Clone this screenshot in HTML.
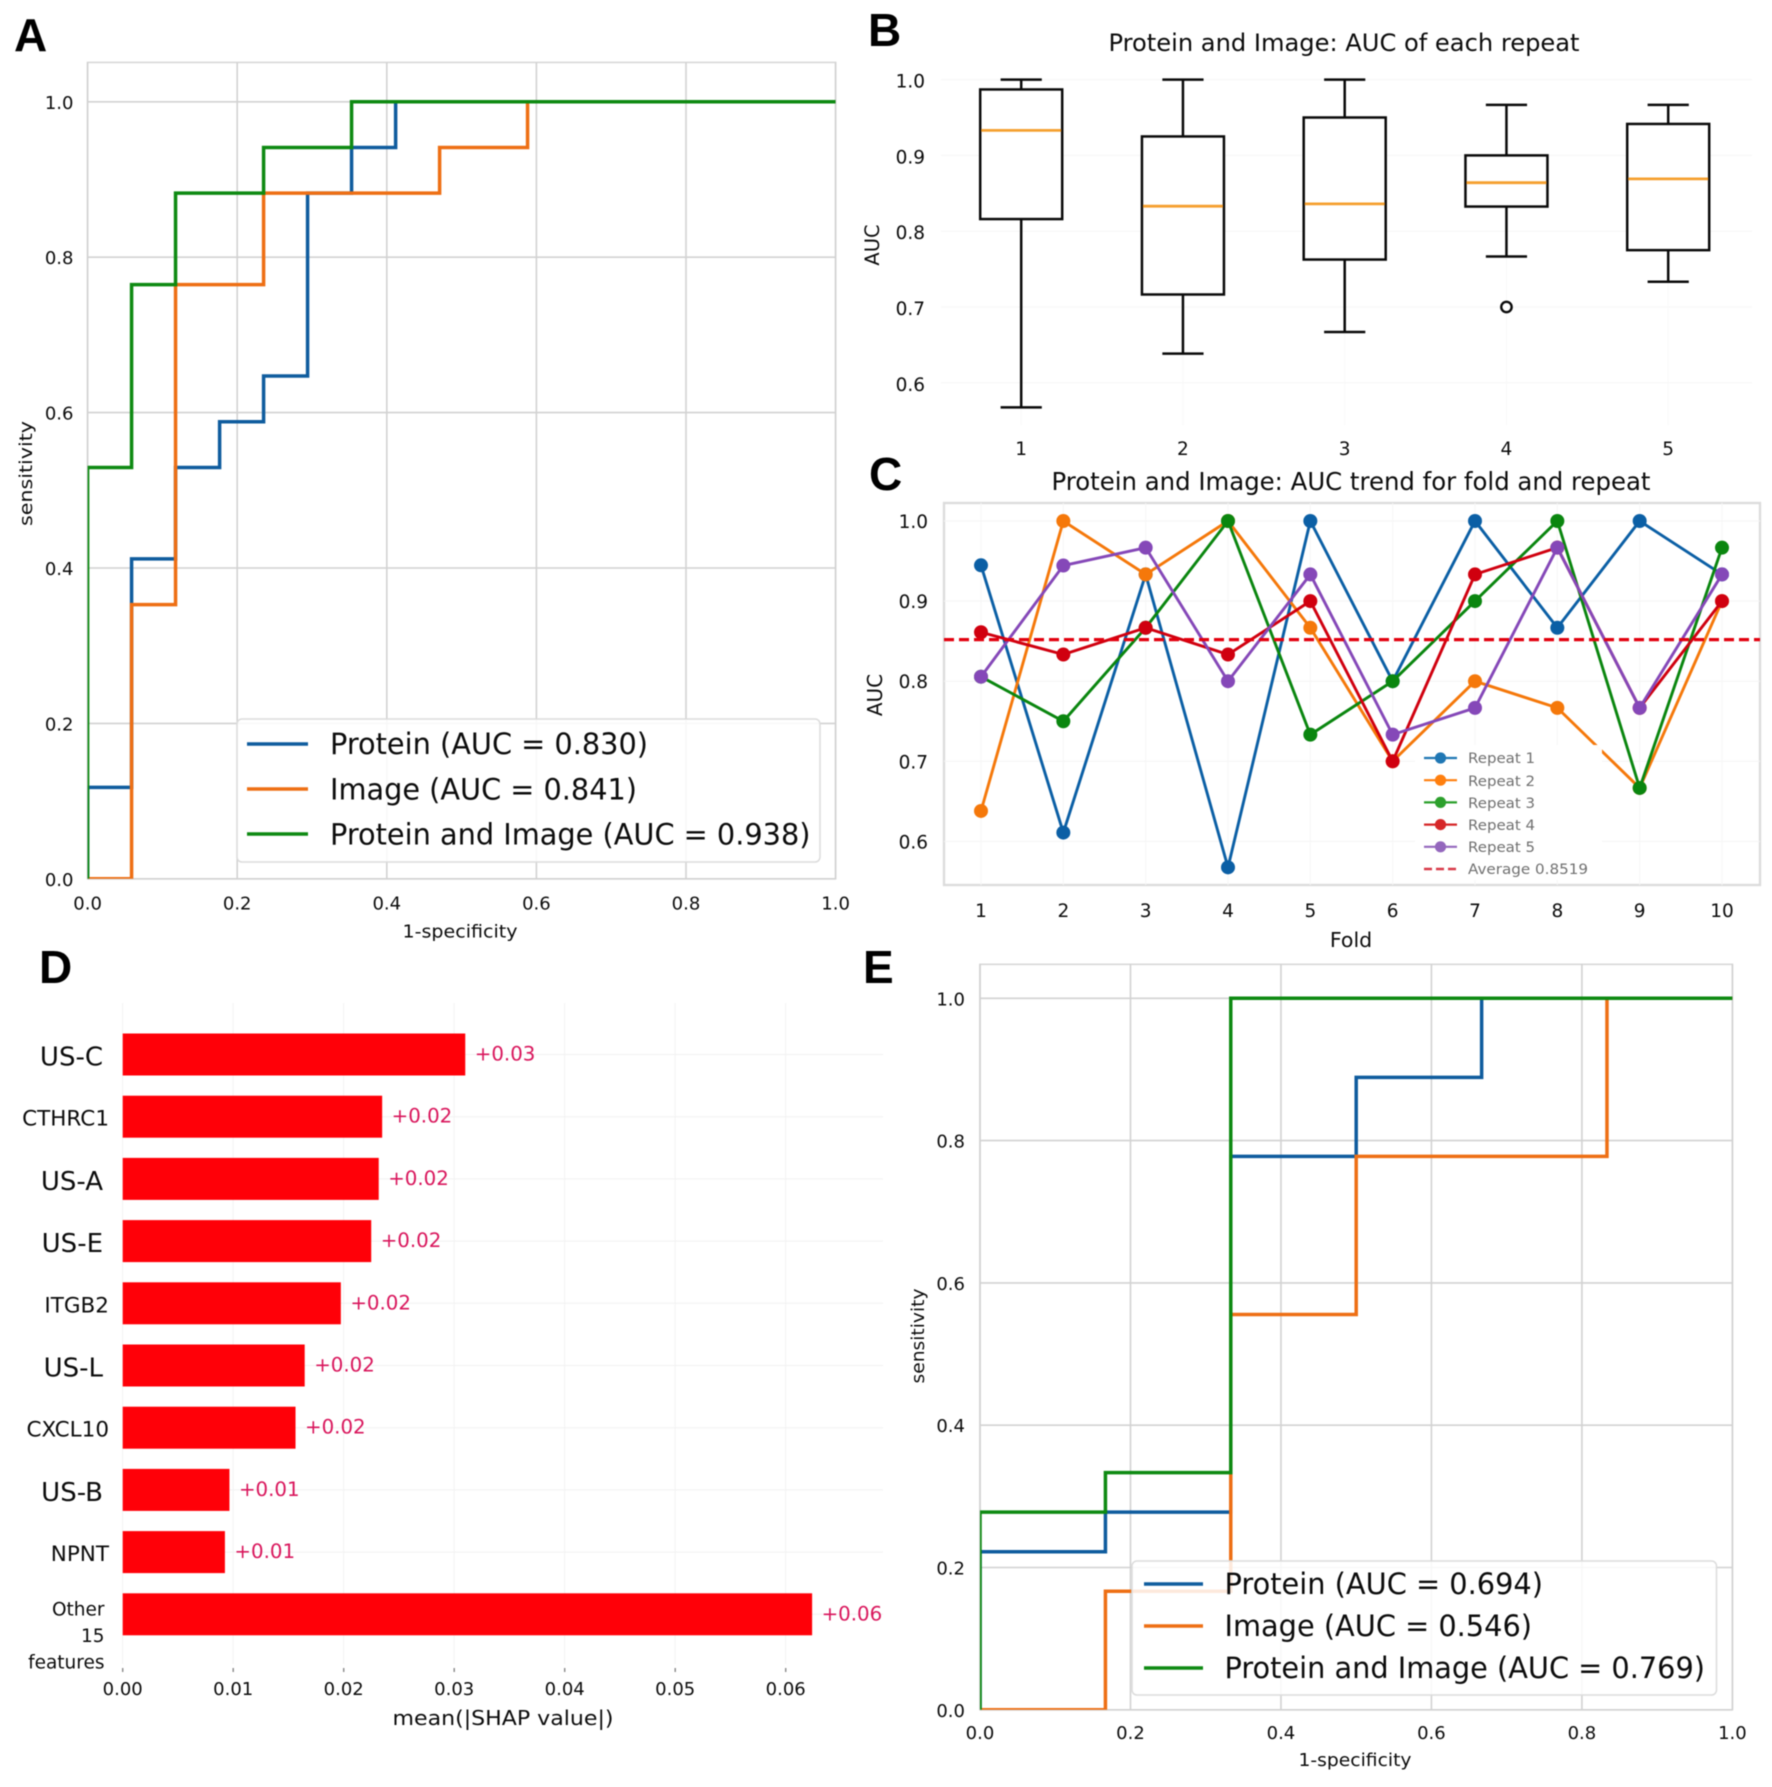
<!DOCTYPE html>
<html lang="en">
<head>
<meta charset="utf-8">
<title>Protein and Image AUC figure</title>
<style>
html,body{margin:0;padding:0;background:#fff;}
svg{display:block;filter:blur(0.6px);}
text{font-family:"DejaVu Sans","Liberation Sans",sans-serif;fill:#0c0c0c;}
.letter{font-family:"Liberation Sans",sans-serif;font-weight:bold;font-size:46px;fill:#000;}
.leg{font-size:29px;}
.lab{font-size:18px;}
</style>
</head>
<body>
<svg id="figure" xmlns="http://www.w3.org/2000/svg" width="1772" height="1787" viewBox="0 0 1772 1787">
  <rect width="1772" height="1787" fill="#fff"/>
  <defs>
    <clipPath id="clip-a"><rect x="87.6" y="62.4" width="748" height="816.4"/></clipPath>
    <clipPath id="clip-e"><rect x="980" y="964.3" width="752.4" height="745.5"/></clipPath>
  </defs>

  <!-- Panel A -->
  <g id="panel-a">
    <text class="letter" x="14" y="51">A</text>
    <g id="a-axes"></g>
    <text class="lab" x="460" y="937.5" text-anchor="middle" textLength="115" lengthAdjust="spacingAndGlyphs">1-specificity</text>
    <text class="lab" transform="translate(32,473.5) rotate(-90)" text-anchor="middle" textLength="105" lengthAdjust="spacingAndGlyphs">sensitivity</text>
    <g id="a-marks" clip-path="url(#clip-a)"></g>
    <g>
      <rect x="237" y="719" width="583" height="143" rx="5" fill="#fff" fill-opacity="0.85" stroke="#dcdcdc" stroke-width="1.5"/>
      <line x1="247" x2="308" y1="744" y2="744" stroke="#0f5c9e" stroke-width="3.6"/>
      <text class="leg" x="330" y="754" textLength="318" lengthAdjust="spacingAndGlyphs">Protein (AUC = 0.830)</text>
      <line x1="247" x2="308" y1="789" y2="789" stroke="#ee6f14" stroke-width="3.6"/>
      <text class="leg" x="330" y="799.5" textLength="307" lengthAdjust="spacingAndGlyphs">Image (AUC = 0.841)</text>
      <line x1="247" x2="308" y1="834" y2="834" stroke="#0e8a12" stroke-width="3.6"/>
      <text class="leg" x="330" y="844.5" textLength="480.5" lengthAdjust="spacingAndGlyphs">Protein and Image (AUC = 0.938)</text>
    </g>
  </g>

  <!-- Panel B -->
  <g id="panel-b">
    <text class="letter" x="868" y="46">B</text>
    <text x="1344" y="51" text-anchor="middle" font-size="24" textLength="471" lengthAdjust="spacingAndGlyphs">Protein and Image: AUC of each repeat</text>
    <text transform="translate(879,245) rotate(-90)" text-anchor="middle" font-size="19.5">AUC</text>
    <g id="b-axes"></g>
    <g id="b-marks"></g>
  </g>

  <!-- Panel C -->
  <g id="panel-c">
    <text class="letter" x="869" y="490">C</text>
    <text x="1351" y="490" text-anchor="middle" font-size="25" textLength="599" lengthAdjust="spacingAndGlyphs">Protein and Image: AUC trend for fold and repeat</text>
    <text x="1351" y="947" text-anchor="middle" font-size="20.5">Fold</text>
    <text transform="translate(882,695) rotate(-90)" text-anchor="middle" font-size="20">AUC</text>
    <g id="c-axes"></g>
    <g id="c-marks"></g>
    <g>
      <rect x="1415" y="745" width="187" height="135" fill="#fff" fill-opacity="0.97"/>
      <g id="c-legend-keys"></g>
      <g font-size="14.5">
        <text x="1468" y="763" style="fill:#707070" textLength="67" lengthAdjust="spacingAndGlyphs">Repeat 1</text>
        <text x="1468" y="786" style="fill:#707070" textLength="67" lengthAdjust="spacingAndGlyphs">Repeat 2</text>
        <text x="1468" y="808" style="fill:#707070" textLength="67" lengthAdjust="spacingAndGlyphs">Repeat 3</text>
        <text x="1468" y="830" style="fill:#707070" textLength="67" lengthAdjust="spacingAndGlyphs">Repeat 4</text>
        <text x="1468" y="852" style="fill:#707070" textLength="67" lengthAdjust="spacingAndGlyphs">Repeat 5</text>
        <text x="1468" y="874" style="fill:#707070" textLength="120" lengthAdjust="spacingAndGlyphs">Average 0.8519</text>
      </g>
    </g>
  </g>

  <!-- Panel D -->
  <g id="panel-d">
    <text class="letter" x="39" y="983">D</text>
    <g id="d-axes"></g>
    <g id="d-marks"></g>
    <text x="503" y="1725" text-anchor="middle" font-size="20.5" textLength="221" lengthAdjust="spacingAndGlyphs">mean(|SHAP value|)</text>
  </g>

  <!-- Panel E -->
  <g id="panel-e">
    <text class="letter" x="863" y="983">E</text>
    <g id="e-axes"></g>
    <text class="lab" x="1355" y="1766" text-anchor="middle" textLength="113" lengthAdjust="spacingAndGlyphs">1-specificity</text>
    <text class="lab" transform="translate(924,1336) rotate(-90)" text-anchor="middle" textLength="95" lengthAdjust="spacingAndGlyphs">sensitivity</text>
    <g id="e-marks" clip-path="url(#clip-e)"></g>
    <g>
      <rect x="1132" y="1561" width="584.5" height="134" rx="5" fill="#fff" fill-opacity="0.85" stroke="#dcdcdc" stroke-width="1.5"/>
      <line x1="1144" x2="1203" y1="1584" y2="1584" stroke="#0f5c9e" stroke-width="3.6"/>
      <text class="leg" x="1224.5" y="1594" textLength="318.5" lengthAdjust="spacingAndGlyphs">Protein (AUC = 0.694)</text>
      <line x1="1144" x2="1203" y1="1626" y2="1626" stroke="#ee6f14" stroke-width="3.6"/>
      <text class="leg" x="1224.5" y="1636" textLength="307.5" lengthAdjust="spacingAndGlyphs">Image (AUC = 0.546)</text>
      <line x1="1144" x2="1203" y1="1668" y2="1668" stroke="#0e8a12" stroke-width="3.6"/>
      <text class="leg" x="1224.5" y="1678" textLength="480.5" lengthAdjust="spacingAndGlyphs">Protein and Image (AUC = 0.769)</text>
    </g>
  </g>
</svg>

<script>
// ---- Panel A data: ROC curves ----
const rocTicks = [0, 0.2, 0.4, 0.6, 0.8, 1.0];
const aProteinFpr = [0, 0, 0.0588, 0.0588, 0.1176, 0.1176, 0.1765, 0.1765, 0.2353, 0.2353, 0.2941, 0.2941, 0.3529, 0.3529, 0.4118, 0.4118, 1];
const aProteinTpr = [0, 0.1176, 0.1176, 0.4118, 0.4118, 0.5294, 0.5294, 0.5882, 0.5882, 0.6471, 0.6471, 0.8824, 0.8824, 0.9412, 0.9412, 1, 1];
const aImageFpr = [0, 0.0588, 0.0588, 0.1176, 0.1176, 0.2353, 0.2353, 0.4706, 0.4706, 0.5882, 0.5882, 1];
const aImageTpr = [0, 0, 0.3529, 0.3529, 0.7647, 0.7647, 0.8824, 0.8824, 0.9412, 0.9412, 1, 1];
const aBothFpr = [0, 0, 0.0588, 0.0588, 0.1176, 0.1176, 0.2353, 0.2353, 0.3529, 0.3529, 1];
const aBothTpr = [0, 0.5294, 0.5294, 0.7647, 0.7647, 0.8824, 0.8824, 0.9412, 0.9412, 1, 1];

// ---- Panel B data: box plot ----
const boxCategories = ['1', '2', '3', '4', '5'];
const boxTicks = [1.0, 0.9, 0.8, 0.7, 0.6];
const boxLow = [0.5675, 0.6385, 0.667, 0.7667, 0.7333];
const boxQ1 = [0.816, 0.7165, 0.7626, 0.8325, 0.775];
const boxMedian = [0.933, 0.833, 0.836, 0.864, 0.869];
const boxQ3 = [0.987, 0.925, 0.95, 0.9, 0.9415];
const boxHigh = [1.0, 1.0, 1.0, 0.9667, 0.9667];
const boxOutliers = [null, null, null, 0.70, null];

// ---- Panel C data: AUC per fold ----
const foldLabels = ['1', '2', '3', '4', '5', '6', '7', '8', '9', '10'];
const foldTicks = [1.0, 0.9, 0.8, 0.7, 0.6];
const repeat1 = [0.9447, 0.611, 0.9333, 0.5676, 1.0, 0.8, 1.0, 0.8667, 1.0, 0.9333];
const repeat2 = [0.638, 1.0, 0.9333, 1.0, 0.8667, 0.7, 0.8, 0.7667, 0.6667, 0.9];
const repeat3 = [0.8056, 0.75, 0.8667, 1.0, 0.7333, 0.8, 0.9, 1.0, 0.6667, 0.9667];
const repeat4 = [0.8611, 0.8333, 0.8667, 0.8333, 0.9, 0.7, 0.9333, 0.9667, 0.7667, 0.9];
const repeat5 = [0.8056, 0.9444, 0.9667, 0.8, 0.9333, 0.7333, 0.7667, 0.9667, 0.7667, 0.9333];
const averageAuc = [0.8519];

// ---- Panel D data: SHAP bars ----
const shapFeatures = ['US-C', 'CTHRC1', 'US-A', 'US-E', 'ITGB2', 'US-L', 'CXCL10', 'US-B', 'NPNT', 'Other|15|features'];
const shapValues = [0.0310, 0.02348, 0.02317, 0.02249, 0.01974, 0.01647, 0.01564, 0.00966, 0.00925, 0.06239];
const shapPrinted = ['+0.03', '+0.02', '+0.02', '+0.02', '+0.02', '+0.02', '+0.02', '+0.01', '+0.01', '+0.06'];
const shapTicks = [0, 0.01, 0.02, 0.03, 0.04, 0.05, 0.06];

// ---- Panel E data: ROC curves ----
const eProteinFpr = [0, 0, 0.1667, 0.1667, 0.3333, 0.3333, 0.5, 0.5, 0.6667, 0.6667, 1];
const eProteinTpr = [0, 0.2222, 0.2222, 0.2778, 0.2778, 0.7778, 0.7778, 0.8889, 0.8889, 1, 1];
const eImageFpr = [0, 0.1667, 0.1667, 0.3333, 0.3333, 0.5, 0.5, 0.8333, 0.8333, 1];
const eImageTpr = [0, 0, 0.1667, 0.1667, 0.5556, 0.5556, 0.7778, 0.7778, 1, 1];
const eBothFpr = [0, 0, 0.1667, 0.1667, 0.3333, 0.3333, 1];
const eBothTpr = [0, 0.2778, 0.2778, 0.3333, 0.3333, 1, 1];

const NS = 'http://www.w3.org/2000/svg';
const BLUE = '#0f5c9e', ORANGE = '#ee6f14', GREEN = '#0e8a12';
function node(parent, tag, attrs) {
  const el = document.createElementNS(NS, tag);
  for (const k in attrs) el.setAttribute(k, attrs[k]);
  parent.appendChild(el);
  return el;
}
function linear(d0, d1, r0, r1) {
  return function (v) { return r0 + (v - d0) / (d1 - d0) * (r1 - r0); };
}
function pathOf(xs, ys, fx, fy) {
  return xs.map(function (x, i) { return (i ? 'L' : 'M') + fx(x).toFixed(2) + ' ' + fy(ys[i]).toFixed(2); }).join(' ');
}

// ---- ROC panels (A, E) ----
function drawRoc(prefix, box, tickX, tickY, curves) {
  const axes = document.getElementById(prefix + '-axes');
  const marks = document.getElementById(prefix + '-marks');
  const fx = linear(0, 1, box.x0, box.x1);
  const fy = linear(0, 1, box.y0, box.y1);
  const frame = node(axes, 'rect', { x: box.x0, y: box.top, width: box.x1 - box.x0, height: box.y0 - box.top, fill: '#fff', stroke: '#d8d8d8', 'stroke-width': 1.6 });
  
  
  rocTicks.forEach(function (t) {
    const gx = node(axes, 'line', { x1: fx(t), x2: fx(t), y1: box.top, y2: box.y0, stroke: '#d2d2d2', 'stroke-width': 1.6 });
    
    
    const gy = node(axes, 'line', { x1: box.x0, x2: box.x1, y1: fy(t), y2: fy(t), stroke: '#d2d2d2', 'stroke-width': 1.6 });
    
    
    const lx = node(axes, 'text', { x: fx(t), y: tickX, 'text-anchor': 'middle', 'font-size': 18 });
    lx.textContent = t.toFixed(1);
    
    
    const ly = node(axes, 'text', { x: tickY, y: fy(t) + 7, 'text-anchor': 'end', 'font-size': 18 });
    ly.textContent = t.toFixed(1);
    
    
  });
  curves.forEach(function (c) {
    const p = node(marks, 'path', { d: pathOf(c.xs, c.ys, fx, fy), fill: 'none', stroke: c.color, 'stroke-width': 3.5, 'stroke-linejoin': 'miter' });
    
    
  });
}
drawRoc('a', { x0: 87.6, x1: 835.6, y0: 878.8, y1: 101.8, top: 62.4 }, 909.5, 73.5, [
  { key: 'protein', xs: aProteinFpr, ys: aProteinTpr, color: BLUE },
  { key: 'image', xs: aImageFpr, ys: aImageTpr, color: ORANGE },
  { key: 'protein-and-image', xs: aBothFpr, ys: aBothTpr, color: GREEN }
]);
drawRoc('e', { x0: 980, x1: 1732.4, y0: 1709.8, y1: 998.3, top: 964.3 }, 1739, 965, [
  { key: 'protein', xs: eProteinFpr, ys: eProteinTpr, color: BLUE },
  { key: 'image', xs: eImageFpr, ys: eImageTpr, color: ORANGE },
  { key: 'protein-and-image', xs: eBothFpr, ys: eBothTpr, color: GREEN }
]);

// ---- Box plot (B) ----
(function () {
  const axes = document.getElementById('b-axes');
  const marks = document.getElementById('b-marks');
  const fy = linear(1, 0, 79.6, 837.6);
  const fx = linear(1, 5, 1021.2, 1668.2);
  const HALF = 41, CAP = 20.6;
  boxTicks.forEach(function (t) {
    const g = node(axes, 'line', { x1: 941, x2: 1752, y1: fy(t), y2: fy(t), stroke: '#f6f6f6', 'stroke-width': 1 });
    
    
    const l = node(axes, 'text', { x: 925, y: fy(t) + 8, 'text-anchor': 'end', 'font-size': 18.5 });
    l.textContent = t.toFixed(1);
    
    
  });
  boxCategories.forEach(function (cat, i) {
    const cx = fx(i + 1);
    const g = node(axes, 'line', { x1: cx, x2: cx, y1: 112, y2: 425, stroke: '#f8f8f8', 'stroke-width': 1 });
    
    
    const l = node(axes, 'text', { x: cx, y: 455, 'text-anchor': 'middle', 'font-size': 18.5 });
    l.textContent = cat;
    
    
    const common = { stroke: '#0a0a0a', 'stroke-width': 2.5 };
    const wl = node(marks, 'line', Object.assign({ x1: cx, x2: cx, y1: fy(boxQ1[i]), y2: fy(boxLow[i]) }, common));
    
    
    const wh = node(marks, 'line', Object.assign({ x1: cx, x2: cx, y1: fy(boxQ3[i]), y2: fy(boxHigh[i]) }, common));
    
    
    const cl = node(marks, 'line', Object.assign({ x1: cx - CAP, x2: cx + CAP, y1: fy(boxLow[i]), y2: fy(boxLow[i]) }, common));
    
    
    const ch = node(marks, 'line', Object.assign({ x1: cx - CAP, x2: cx + CAP, y1: fy(boxHigh[i]), y2: fy(boxHigh[i]) }, common));
    
    
    const r = node(marks, 'rect', Object.assign({ x: cx - HALF, y: fy(boxQ3[i]), width: HALF * 2, height: fy(boxQ1[i]) - fy(boxQ3[i]), fill: '#fff' }, common));
    
    
    const m = node(marks, 'line', { x1: cx - HALF + 1, x2: cx + HALF - 1, y1: fy(boxMedian[i]), y2: fy(boxMedian[i]), stroke: '#f5a030', 'stroke-width': 2.8 });
    
    
    if (boxOutliers[i] !== null) {
      const o = node(marks, 'circle', { cx: cx, cy: fy(boxOutliers[i]), r: 5.2, fill: '#fff', stroke: '#0a0a0a', 'stroke-width': 2.4 });
      
      
    }
  });
})();

// ---- Line chart (C) ----
(function () {
  const axes = document.getElementById('c-axes');
  const marks = document.getElementById('c-marks');
  const keys = document.getElementById('c-legend-keys');
  const fy = linear(1, 0, 521, 1322);
  const fx = linear(1, 10, 981, 1722);
  const colors = ['#0b5fa5', '#f5780a', '#0a860f', '#d0000f', '#8548b8'];
  const legendColors = ['#1f77b4', '#ff7f0e', '#2ca02c', '#d62728', '#9467bd'];
  const series = [repeat1, repeat2, repeat3, repeat4, repeat5];
  const frame = node(axes, 'rect', { x: 944, y: 503, width: 816, height: 382, fill: '#fff', stroke: '#dcdcdc', 'stroke-width': 2.4 });
  
  
  foldTicks.forEach(function (t) {
    const g = node(axes, 'line', { x1: 944, x2: 1760, y1: fy(t), y2: fy(t), stroke: '#f4f4f4', 'stroke-width': 1 });
    
    
    const l = node(axes, 'text', { x: 928, y: fy(t) + 7, 'text-anchor': 'end', 'font-size': 18.5 });
    l.textContent = t.toFixed(1);
    
    
  });
  foldLabels.forEach(function (f, i) {
    const g = node(axes, 'line', { x1: fx(i + 1), x2: fx(i + 1), y1: 503, y2: 885, stroke: '#f6f6f6', 'stroke-width': 1 });
    
    
    const l = node(axes, 'text', { x: fx(i + 1), y: 917, 'text-anchor': 'middle', 'font-size': 18.5 });
    l.textContent = f;
    
    
  });
  series.forEach(function (vals, s) {
    const xs = vals.map(function (_, i) { return i + 1; });
    const p = node(marks, 'path', { d: pathOf(xs, vals, fx, fy), fill: 'none', stroke: colors[s], 'stroke-width': 2.9 });
    
    
    vals.forEach(function (v, i) {
      const c = node(marks, 'circle', { cx: fx(i + 1), cy: fy(v), r: 7, fill: colors[s] });
      
      
    });
    const ky = 758 + s * 22.2;
    const kl = node(keys, 'line', { x1: 1424, x2: 1457, y1: ky, y2: ky, stroke: legendColors[s], 'stroke-width': 2.2 });
    
    
    const kc = node(keys, 'circle', { cx: 1440.5, cy: ky, r: 5.6, fill: legendColors[s] });
    
    
  });
  const avg = node(marks, 'line', { x1: 944, x2: 1760, y1: fy(averageAuc[0]), y2: fy(averageAuc[0]), stroke: '#e2000e', 'stroke-width': 3.2, 'stroke-dasharray': '10 5' });
  
  
  const ka = node(keys, 'line', { x1: 1424, x2: 1457, y1: 869, y2: 869, stroke: '#d83a48', 'stroke-width': 2.4, 'stroke-dasharray': '8 4' });
  
  
})();

// ---- SHAP bars (D) ----
(function () {
  const axes = document.getElementById('d-axes');
  const marks = document.getElementById('d-marks');
  const fx = linear(0, 0.01, 122.7, 233.2);
  const fy = function (i) { return 1054.5 + i * 62.2; };
  shapTicks.forEach(function (t) {
    const g = node(axes, 'line', { x1: fx(t), x2: fx(t), y1: 1003, y2: 1664, stroke: '#f3f3f3', 'stroke-width': 1 });
    
    
    const k = node(axes, 'line', { x1: fx(t), x2: fx(t), y1: 1668, y2: 1672, stroke: '#888', 'stroke-width': 1.4 });
    
    
    const l = node(axes, 'text', { x: fx(t), y: 1695, 'text-anchor': 'middle', 'font-size': 18 });
    l.textContent = t.toFixed(2);
    
    
  });
  shapFeatures.forEach(function (name, i) {
    const cy = fy(i);
    const g = node(axes, 'line', { x1: fx(0), x2: 883, y1: cy, y2: cy, stroke: '#f1f1f1', 'stroke-width': 1 });
    
    
    const bar = node(marks, 'rect', { x: fx(0), y: cy - 21, width: fx(shapValues[i]) - fx(0), height: 42, fill: '#ff0008' });
    
    
    const v = node(marks, 'text', { x: fx(shapValues[i]) + 9.5, y: cy + 6, 'font-size': 19.8, style: 'fill:#d9165c' });
    v.textContent = shapPrinted[i];
    
    
    const parts = name.split('|');
    if (parts.length > 1) {
      parts.forEach(function (part, j) {
        const t = node(marks, 'text', { x: 104.5, y: cy + 1 + j * 26.5, 'text-anchor': 'end', 'font-size': 18.5 });
        t.textContent = part;
        
        
      });
    } else {
      const big = name.indexOf('US-') === 0;
      const t = node(marks, 'text', { x: big ? 103 : 109, y: cy + (big ? 11 : 9), 'text-anchor': 'end', 'font-size': big ? 26 : 21.5 });
      t.textContent = name;
      
      
    }
  });
})();
</script>
</body>
</html>
